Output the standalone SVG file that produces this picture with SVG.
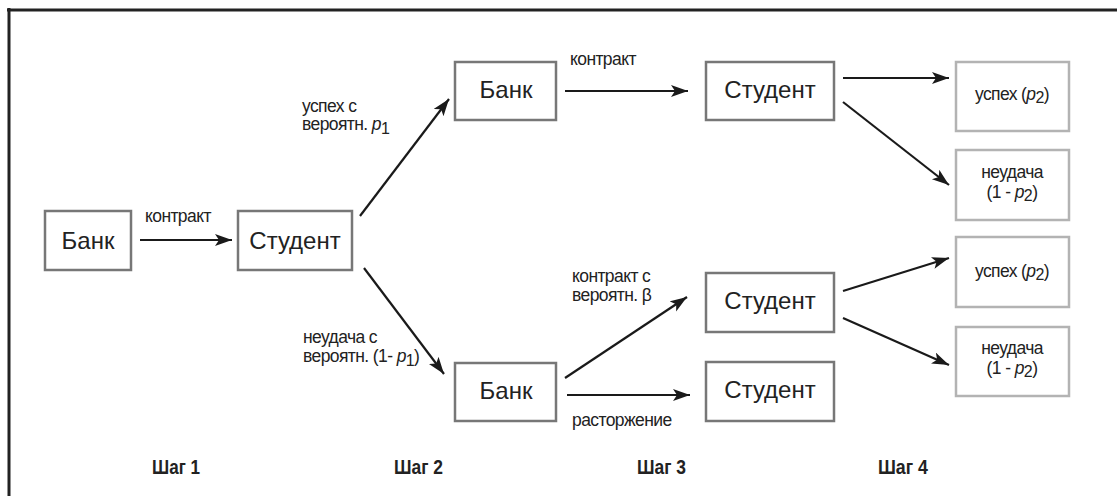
<svg xmlns="http://www.w3.org/2000/svg" width="1117" height="496" viewBox="0 0 1117 496">
<style>
.bx{fill:#fff;stroke:#777;stroke-width:2.5}
.ob{fill:#fff;stroke:#b3b3b3;stroke-width:2.5}
.bt{font-family:"Liberation Sans",Arial,sans-serif;font-size:24px;fill:#222;text-anchor:middle}
.lb{font-family:"Liberation Sans",Arial,sans-serif;font-size:17.5px;fill:#222;letter-spacing:-0.6px}
.ot{font-family:"Liberation Sans",Arial,sans-serif;font-size:17.5px;fill:#222;text-anchor:middle;letter-spacing:-0.6px}
.st{font-family:"Liberation Sans",Arial,sans-serif;font-size:19.5px;font-weight:bold;fill:#222}
.cn{stroke:#1a1a1a;stroke-width:2.2;fill:none;marker-end:url(#ah)}
.i{font-style:italic}
</style>
<defs>
<marker id="ah" markerUnits="userSpaceOnUse" markerWidth="18" markerHeight="14" refX="17" refY="6" orient="auto">
<path d="M0,0 L17,6 L0,12 L4,6 z" fill="#1a1a1a"/>
</marker>
</defs>
<rect width="1117" height="496" fill="#fff"/>
<g id="frame">
<line x1="7" y1="10" x2="1117" y2="10" stroke="#222" stroke-width="3"/>
<line x1="9" y1="8" x2="9" y2="496" stroke="#222" stroke-width="3"/>
</g>
<g id="connectors">
<line class="cn" x1="140" y1="240" x2="232" y2="240"/>
<line class="cn" x1="360" y1="216" x2="449" y2="99"/>
<line class="cn" x1="364" y1="268" x2="444" y2="374"/>
<line class="cn" x1="565" y1="91" x2="688" y2="91"/>
<line class="cn" x1="843" y1="78" x2="949" y2="78"/>
<line class="cn" x1="843" y1="102" x2="949" y2="185"/>
<line class="cn" x1="843" y1="291" x2="949" y2="258"/>
<line class="cn" x1="843" y1="318" x2="949" y2="365"/>
<line class="cn" x1="565" y1="378" x2="687" y2="297"/>
<line class="cn" x1="567" y1="395" x2="690" y2="395"/>
</g>
<g id="labels">
<text class="lb" x="145" y="222">контракт</text>
<text class="lb" x="302" y="112">успех с</text>
<text class="lb" x="302" y="130">вероятн. <tspan class="i">p</tspan><tspan dy="4" font-size="16">1</tspan></text>
<text class="lb" x="570" y="65">контракт</text>
<text class="lb" x="303" y="343">неудача с</text>
<text class="lb" x="303" y="362">вероятн. (1- <tspan class="i">p</tspan><tspan dy="4" font-size="16">1</tspan><tspan dy="-4">)</tspan></text>
<text class="lb" x="572" y="282">контракт с</text>
<text class="lb" x="572" y="301">вероятн. β</text>
<text class="lb" x="572" y="426">расторжение</text>
</g>
<g id="bank1"><rect class="bx" x="45" y="211" width="86" height="59"/><text class="bt" x="88" y="249">Банк</text></g>
<g id="student1"><rect class="bx" x="238" y="211" width="114" height="59"/><text class="bt" x="295" y="249">Студент</text></g>
<g id="bank2"><rect class="bx" x="455" y="62" width="101" height="58"/><text class="bt" x="506" y="98">Банк</text></g>
<g id="bank3"><rect class="bx" x="455" y="363" width="101" height="58"/><text class="bt" x="506" y="399">Банк</text></g>
<g id="student2"><rect class="bx" x="706" y="62" width="128" height="58"/><text class="bt" x="770" y="98">Студент</text></g>
<g id="student3"><rect class="bx" x="706" y="273" width="128" height="59"/><text class="bt" x="770" y="309">Студент</text></g>
<g id="student4"><rect class="bx" x="706" y="362" width="128" height="59"/><text class="bt" x="770" y="398">Студент</text></g>
<g id="outcome1"><rect class="ob" x="956" y="62" width="113" height="69"/><text class="ot" x="1012" y="100">успех (<tspan class="i">p</tspan><tspan dy="3" font-size="16">2</tspan><tspan dy="-3">)</tspan></text></g>
<g id="outcome2"><rect class="ob" x="956" y="150" width="113" height="70"/><text class="ot" x="1012" y="178">неудача</text><text class="ot" x="1012" y="198">(1 - <tspan class="i">p</tspan><tspan dy="3" font-size="16">2</tspan><tspan dy="-3">)</tspan></text></g>
<g id="outcome3"><rect class="ob" x="956" y="237" width="113" height="70"/><text class="ot" x="1012" y="277">успех (<tspan class="i">p</tspan><tspan dy="3" font-size="16">2</tspan><tspan dy="-3">)</tspan></text></g>
<g id="outcome4"><rect class="ob" x="956" y="327" width="113" height="69"/><text class="ot" x="1012" y="354">неудача</text><text class="ot" x="1012" y="374">(1 - <tspan class="i">p</tspan><tspan dy="3" font-size="16">2</tspan><tspan dy="-3">)</tspan></text></g>
<g id="steps">
<text class="st" x="152" y="474" textLength="48" lengthAdjust="spacingAndGlyphs">Шаг 1</text>
<text class="st" x="394" y="474" textLength="49" lengthAdjust="spacingAndGlyphs">Шаг 2</text>
<text class="st" x="637" y="474" textLength="49" lengthAdjust="spacingAndGlyphs">Шаг 3</text>
<text class="st" x="878" y="474" textLength="50" lengthAdjust="spacingAndGlyphs">Шаг 4</text>
</g>
</svg>
